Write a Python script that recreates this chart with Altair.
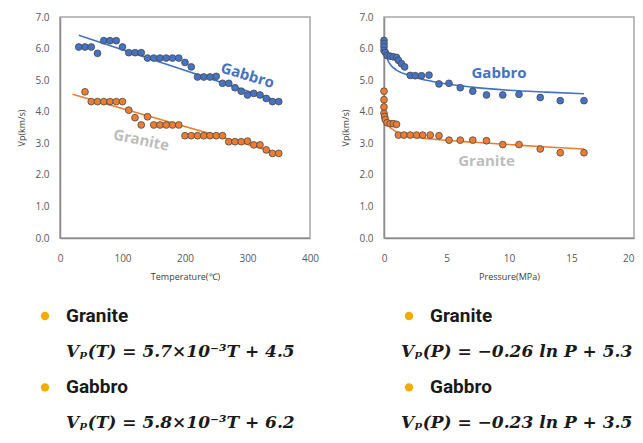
import altair as alt
import pandas as pd

BLUE = "#4472C4"
ORANGE = "#ED7D31"
BULLET = "#F5AA00"
FRAME = "#A6A6A6"

# ---------------- Temperature panel data ----------------
gabbro_T = [30, 40, 50, 60, 70, 80, 90, 100, 110, 120, 130, 140, 150, 160, 170, 180, 190,
            200, 210, 220, 230, 240, 250, 260, 270, 280, 290, 300, 310, 320, 330, 340, 350]
gabbro_T_vp = [6.05, 6.05, 6.05, 5.85, 6.25, 6.25, 6.25, 6.05, 5.87, 5.87, 5.87, 5.70, 5.70,
               5.70, 5.70, 5.70, 5.70, 5.56, 5.42, 5.10, 5.10, 5.10, 5.12, 4.90, 4.90, 4.76,
               4.65, 4.53, 4.58, 4.53, 4.42, 4.32, 4.32]
granite_T = [40, 50, 60, 70, 80, 90, 100, 110, 120, 130, 140, 150, 160, 170, 180, 190,
             200, 210, 220, 230, 240, 250, 260, 270, 280, 290, 300, 310, 320, 330, 340, 350]
granite_T_vp = [4.63, 4.32, 4.32, 4.32, 4.32, 4.32, 4.32, 4.05, 3.81, 3.58, 3.84, 3.58, 3.58,
                3.58, 3.58, 3.58, 3.24, 3.24, 3.24, 3.24, 3.24, 3.24, 3.24, 3.05, 3.05, 3.05,
                3.07, 2.95, 2.95, 2.79, 2.68, 2.68]
fit_gabbro_T = [30, 350]
fit_gabbro_T_vp = [6.42, 4.33]
fit_granite_T = [20, 350]
fit_granite_T_vp = [4.55, 2.68]

# ---------------- Pressure panel data ----------------
gabbro_P = [0, 0, 0, 0, 0.1, 0.25, 0.5, 0.75, 1.0, 1.15, 1.4, 1.65, 2.1, 2.5, 3.0, 3.6,
            4.4, 5.2, 6.1, 7.1, 8.2, 9.5, 10.8, 12.5, 14.1, 16.0]
gabbro_P_vp = [6.26, 6.16, 6.06, 5.94, 5.88, 5.78, 5.76, 5.74, 5.72, 5.63, 5.52, 5.42, 5.15,
               5.14, 5.14, 5.16, 4.88, 4.90, 4.76, 4.65, 4.53, 4.53, 4.55, 4.45, 4.35, 4.35]
granite_P = [0, 0, 0, 0, 0.05, 0.1, 0.25, 0.5, 0.75, 1.0, 1.15, 1.6, 2.1, 2.6, 3.1, 3.7,
             4.4, 5.2, 6.1, 7.1, 8.2, 9.5, 10.8, 12.5, 14.1, 16.0]
granite_P_vp = [4.65, 4.38, 4.15, 3.95, 3.85, 3.75, 3.65, 3.62, 3.62, 3.60, 3.26, 3.26, 3.26,
                3.26, 3.26, 3.26, 3.24, 3.10, 3.10, 3.10, 3.08, 2.96, 2.96, 2.82, 2.70, 2.70]
fit_gabbro_P = [0.1, 0.3, 0.6, 1, 2, 4, 7, 10, 13, 16]
fit_gabbro_P_vp = [5.92, 5.64, 5.45, 5.32, 5.15, 4.95, 4.78, 4.68, 4.62, 4.57]
fit_granite_P = [0.15, 0.4, 1, 2, 4, 7, 10, 13, 16]
fit_granite_P_vp = [3.78, 3.55, 3.36, 3.22, 3.13, 3.04, 2.96, 2.88, 2.82]

# ---------------- Text below ----------------
rock_names = ["Granite", "Gabbro"]
eq_T = ["Vₚ(T) = 5.7×10⁻³T + 4.5", "Vₚ(T) = 5.8×10⁻³T + 6.2"]
eq_P = ["Vₚ(P) = −0.26 ln P + 5.3", "Vₚ(P) = −0.23 ln P + 3.5"]

y_ticks = [0, 1, 2, 3, 4, 5, 6, 7]
t_ticks = [0, 100, 200, 300, 400]
p_ticks = [0, 5, 10, 15, 20]

W, H = 250, 221
color_scale = alt.Scale(domain=["Gabbro", "Granite"], range=[BLUE, ORANGE])


def pts(xs, ys, rock):
    return pd.DataFrame({"x": xs, "vp": ys, "rock": rock})


def panel(xdom, xticks, xtitle, pts_df, fit_df, labels, flush_last):
    xs = alt.Scale(domain=xdom, nice=False)
    ys = alt.Scale(domain=[0, 7], nice=False)
    xkw = dict(values=xticks, title=xtitle, grid=False, ticks=False, labelPadding=15,
               titlePadding=9, labelFlush=False, labelOverlap=False)
    if flush_last:
        xkw["labelAlign"] = {"condition": {"test": f"datum.value >= {xticks[-1]}",
                                           "value": "right"}, "value": "center"}
    xax = alt.Axis(**xkw)
    yax = alt.Axis(values=y_ticks, format=".1f", title="Vp(km/s)", grid=False, ticks=False,
                   labelPadding=11, titlePadding=8, labelOverlap=False)
    X = alt.X("x:Q", scale=xs, axis=xax)
    Y = alt.Y("vp:Q", scale=ys, axis=yax)
    lines = alt.Chart(fit_df).mark_line(strokeWidth=1.6, interpolate="monotone").encode(
        x=X, y=Y,
        color=alt.Color("rock:N", scale=color_scale, legend=None),
        detail="rock:N",
    )
    points = alt.Chart(pts_df).mark_circle(size=46, opacity=1, stroke="#4a4a4a",
                                           strokeWidth=0.8).encode(
        x=X, y=Y,
        color=alt.Color("rock:N", scale=color_scale, legend=None),
    )
    layers = [lines, points]
    for text, xv, yv, ang, col in labels:
        lab_df = pd.DataFrame({"x": [xv], "vp": [yv]})
        layers.append(
            alt.Chart(lab_df).mark_text(text=text, angle=ang, fontSize=15, fontWeight="bold",
                                        font="Open Sans", color=col, align="center",
                                        baseline="middle").encode(x=X, y=Y)
        )
    return alt.layer(*layers).properties(
        width=W, height=H,
        view=alt.ViewBackground(stroke=FRAME, strokeWidth=1.5))


df_T = pd.concat([pts(gabbro_T, gabbro_T_vp, "Gabbro"), pts(granite_T, granite_T_vp, "Granite")])
fit_T = pd.concat([pts(fit_gabbro_T, fit_gabbro_T_vp, "Gabbro"),
                   pts(fit_granite_T, fit_granite_T_vp, "Granite")])
df_P = pd.concat([pts(gabbro_P, gabbro_P_vp, "Gabbro"), pts(granite_P, granite_P_vp, "Granite")])
fit_P = pd.concat([pts(fit_gabbro_P, fit_gabbro_P_vp, "Gabbro"),
                   pts(fit_granite_P, fit_granite_P_vp, "Granite")])

left = panel([0, 400], t_ticks, "Temperature(℃)", df_T, fit_T,
             [("Gabbro", 300, 5.15, 17, BLUE), ("Granite", 130, 3.1, 12, "#BDBDBD")], False)
right = panel([0, 20], p_ticks, "Pressure(MPa)", df_P, fit_P,
              [("Gabbro", 9.2, 5.23, 0, BLUE), ("Granite", 8.2, 2.45, 0, "#BDBDBD")], True)

# bottom text block (x positions relative to the left plot's origin)
names_df = pd.DataFrame({"name": rock_names, "row": [0, 2]})
eqT_df = pd.DataFrame({"eq": eq_T, "row": [1, 3]})
eqP_df = pd.DataFrame({"eq": eq_P, "row": [1, 3]})
row_scale = alt.Scale(domain=[0, 3], range=[24, 131])


def name_layer(xpx):
    return alt.Chart(names_df).mark_text(align="left", baseline="middle", fontSize=19,
                                         fontWeight="bold", font="Roboto",
                                         color="#1a1a1a").encode(
        x=alt.value(xpx), y=alt.Y("row:Q", scale=row_scale, axis=None), text="name:N")


def bullet_layer(xpx):
    return alt.Chart(names_df).mark_circle(size=70, opacity=1, color=BULLET).encode(
        x=alt.value(xpx), y=alt.Y("row:Q", scale=row_scale, axis=None))


def eq_layer(df, xpx):
    return alt.Chart(df).mark_text(align="left", baseline="middle", fontSize=17,
                                   fontWeight="bold", fontStyle="italic", font="DejaVu Serif",
                                   color="#1a1a1a").encode(
        x=alt.value(xpx), y=alt.Y("row:Q", scale=row_scale, axis=None), text="eq:N")


bottom = alt.layer(
    bullet_layer(-15), name_layer(6), eq_layer(eqT_df, 6),
    bullet_layer(349), name_layer(370), eq_layer(eqP_df, 341),
).properties(width=500, height=120, view=alt.ViewBackground(strokeOpacity=0))

chart = alt.vconcat(
    alt.hconcat(left, right, spacing=21),
    bottom,
    spacing=10,
).properties(
    padding={"left": 9, "top": 3, "right": 0, "bottom": 0}
).configure_axis(
    labelFont="Open Sans", labelFontSize=10, labelColor="#595959",
    titleFont="Open Sans", titleFontSize=9, titleFontWeight="normal", titleColor="#404040",
    domainColor="#8C8C8C", domainWidth=1.5,
)

chart.save("out.html", embed_options={"renderer": "svg", "actions": False})
